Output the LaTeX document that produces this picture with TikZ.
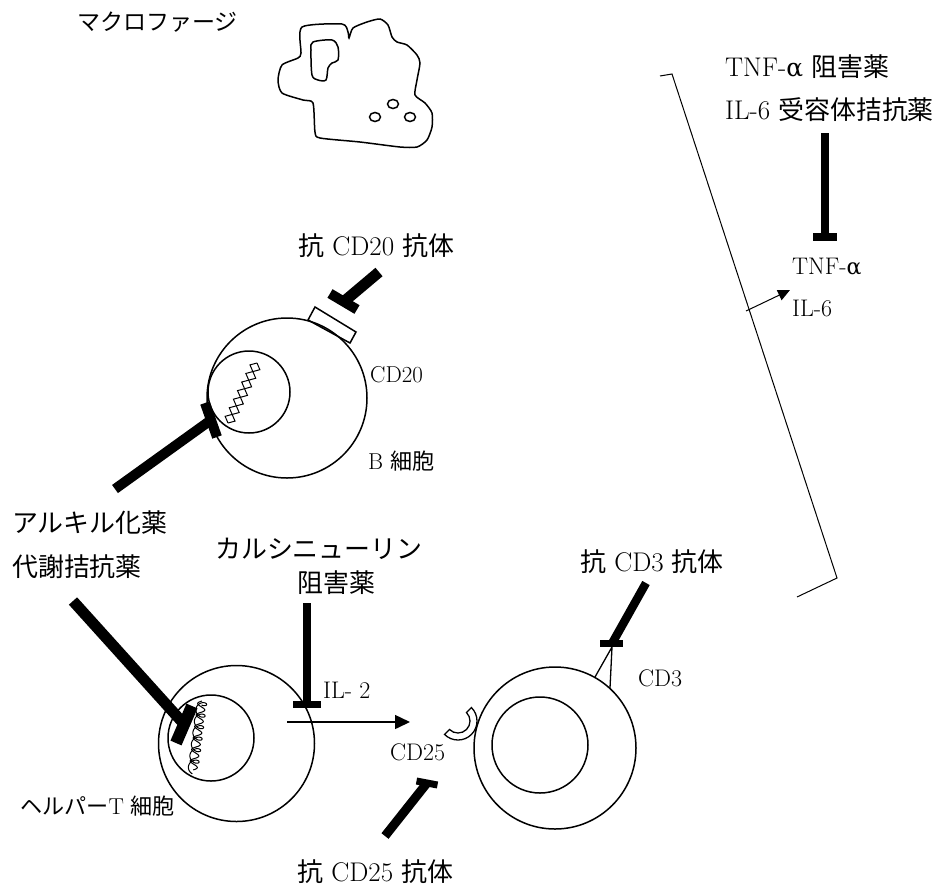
\documentclass[tikz,border=0pt]{standalone}
\usepackage{fontspec}
\newfontfamily\jp[Scale=0.96]{Noto Sans CJK JP}
\newfontfamily\grk[Scale=0.92]{DejaVu Serif}
\usetikzlibrary{arrows.meta,calc}
\newcommand{\galpha}{{\grk α}}

\begin{document}
\begin{tikzpicture}[x=1pt,y=-1pt,
  cellline/.style={line width=1.5pt},
  drugstem/.style={line width=#1, line cap=butt},
  drugbar/.style={line width=#1, line cap=butt},
  thinline/.style={line width=1pt},
  bigtxt/.style={font=\fontsize{27}{32}\selectfont, inner sep=0pt, anchor=west},
  smalltxt/.style={font=\fontsize{23}{27}\selectfont, inner sep=0pt, anchor=west},
  midtxt/.style={font=\fontsize{24}{28}\selectfont, inner sep=0pt, anchor=west},
  dnastrand/.style={line width=1pt}]

\useasboundingbox (0,0) rectangle (947,892);
\fill[white] (0,0) rectangle (947,892);

% ---------------- macrophage ----------------
\node[midtxt] (macrolabel) at (77,22) {\jp マクロファージ};
\draw[cellline] plot[smooth cycle, tension=0.4] coordinates {
  (302,27) (342,24) (348,32) (349,38) (353,28) (367,22) (380,19) (388,25)
  (392,37) (397,42) (407,45) (417,55) (420,63) (417,80) (415,95) (425,103)
  (432,113) (432,127) (427,140) (417,147) (400,147) (360,142) (320,138)
  (315,132) (313,103) (303,100) (282,93) (278,80) (282,65) (298,58) (301,53)};
\draw[cellline] plot[smooth cycle, tension=0.5] coordinates {
  (313,42) (332,40) (338,47) (338,60) (332,63) (328,68) (326,80) (318,80)
  (312,75) (311,50)};
\draw[cellline] (375,117) ellipse[x radius=5.5, y radius=4.5];
\draw[cellline] (393,104) ellipse[x radius=5.5, y radius=4.5];
\draw[cellline] (410,117) ellipse[x radius=5.5, y radius=4.5];

% ---------------- B cell ----------------
\draw[cellline, fill=white] (308,320) -- (315,307) -- (356,332) -- (350,343) -- cycle;
\draw[cellline] (287,398) circle[radius=80];
\draw[cellline] (249,392) circle[radius=41];
% twisted double strand in the nucleus
\draw[dnastrand] plot[domain=0:1, samples=15]
  ({228+29*\x+5.5*sin(3.5*360*\x)*0.9}, {423-60*\x+5.5*sin(3.5*360*\x)*0.435});
\draw[dnastrand] plot[domain=0:1, samples=15]
  ({228+29*\x-5.5*sin(3.5*360*\x)*0.9}, {423-60*\x-5.5*sin(3.5*360*\x)*0.435});

\node[bigtxt] (cd20ab) at (298,246) {{\jp 抗} CD20 {\jp 抗体}};
\node[smalltxt] (cd20) at (370,375) {CD20};
\node[smalltxt] (bcell) at (368,461) {B {\jp 細胞}};

% anti-CD20 antibody
\coordinate (a1) at (379,272);
\coordinate (a1e) at (344,301.5);
\draw[drugstem=11pt] (a1) -- (a1e);
\draw[drugbar=10pt] (330,293.5) -- (357,309.5);

% alkylating agent / antimetabolite on the B cell nucleus
\coordinate (b1) at (115,489);
\coordinate (b1e) at (211,420);
\draw[drugstem=10pt] (b1) -- (b1e);
\draw[drugbar=10pt] (205,403) -- (217,437);

\node[bigtxt] (alkyl) at (12,523) {\jp アルキル化薬};
\node[bigtxt] (antimet) at (12,567) {\jp 代謝拮抗薬};
\node[bigtxt] (calcin) at (215,549) {\jp カルシニューリン};
\node[bigtxt] (calcin2) at (297,583) {\jp 阻害薬};

% ---------------- helper T cell ----------------
\draw[cellline] (236.5,743.5) circle[radius=78];
\draw[cellline] (211,738) circle[radius=43];
% curled strands in the nucleus
\draw[dnastrand] plot[domain=0:1, samples=140, smooth]
  ({202-9*\x+5*sin(6*360*\x)*0.991-4*cos(6*360*\x)*0.129},
   {701+69*\x+5*sin(6*360*\x)*0.129+4*cos(6*360*\x)*0.991});
\draw[dnastrand] plot[domain=0:1, samples=100, smooth]
  ({202-9*\x-4*sin(6*360*\x)*0.991}, {701+69*\x-4*sin(6*360*\x)*0.129});

\coordinate (t1) at (73,601);
\coordinate (t1e) at (184,724);
\draw[drugstem=11pt] (t1) -- (t1e);
\draw[drugbar=12pt] (192,706) -- (176,743);

% calcineurin inhibitor
\coordinate (c1) at (307,603);
\coordinate (c1e) at (307,704.5);
\draw[drugstem=7.5pt] (c1) -- (c1e);
\draw[drugbar=7.5pt] (293,704.5) -- (321,704.5);

\node[midtxt] (il2) at (323,690) {IL- 2};
\coordinate (il2s) at (287,722);
\coordinate (il2e) at (410,722);
\draw[line width=1.5pt, -{Triangle[length=15pt,width=14pt]}] (il2s) -- (il2e);

\node[smalltxt] (thelper) at (20,806) {{\jp ヘルパー}T {\jp 細胞}};

% ---------------- effector cell with CD25 / CD3 ----------------
\draw[cellline] (555,748) circle[radius=81];
\draw[cellline] (540,745) circle[radius=48];

% CD25 receptor cup
\draw[line width=1.3pt, fill=white] (458,721) ++(-45:19) arc[start angle=-45, end angle=135, radius=19]
  -- ($(458,721)+(135:12)$) arc[start angle=135, end angle=-45, radius=12] -- cycle;
\node[midtxt] (cd25) at (390,752) {CD25};

% anti-CD25 antibody
\coordinate (d1) at (385,836);
\coordinate (d1e) at (427,783);
\draw[drugstem=9pt] (d1) -- (d1e);
\draw[drugbar=7pt] (416.5,781) -- (437.5,785);
\node[bigtxt] (cd25ab) at (297,872) {{\jp 抗} CD25 {\jp 抗体}};

% anti-CD3 antibody
\coordinate (e1) at (646,583);
\coordinate (e1e) at (612,643.5);
\draw[drugstem=8.5pt] (e1) -- (e1e);
\draw[drugbar=7.5pt] (600,643.5) -- (623,643.5);
\coordinate (cd3a) at (595,677);
\coordinate (cd3b) at (610,688);
\draw[line width=1.3pt] (cd3a) -- (612,647) -- (cd3b);
\node[bigtxt] (cd3ab) at (580,562) {{\jp 抗} CD3 {\jp 抗体}};
\node[midtxt] (cd3) at (638,678) {CD3};

% ---------------- cytokines ----------------
\draw[thinline] (660,76) -- (672,74) -- (837,578) -- (797,597);

\node[bigtxt] (tnfinh) at (725,67) {TNF-\galpha\ {\jp 阻害薬}};
\node[bigtxt] (il6inh) at (725,110) {IL-6 {\jp 受容体拮抗薬}};
\coordinate (f1) at (825,133);
\coordinate (f1e) at (825,237);
\draw[drugstem=7.5pt] (f1) -- (f1e);
\draw[drugbar=7.5pt] (813,237) -- (837,237);
\node[midtxt] (tnf) at (792,267) {TNF-\galpha};
\node[midtxt] (il6) at (792,308) {IL-6};
\coordinate (g1) at (746,311);
\coordinate (g1e) at (790,290);
\draw[line width=1pt, -{Triangle[length=12pt,width=11pt]}] (g1) -- (g1e);

\end{tikzpicture}
\end{document}
